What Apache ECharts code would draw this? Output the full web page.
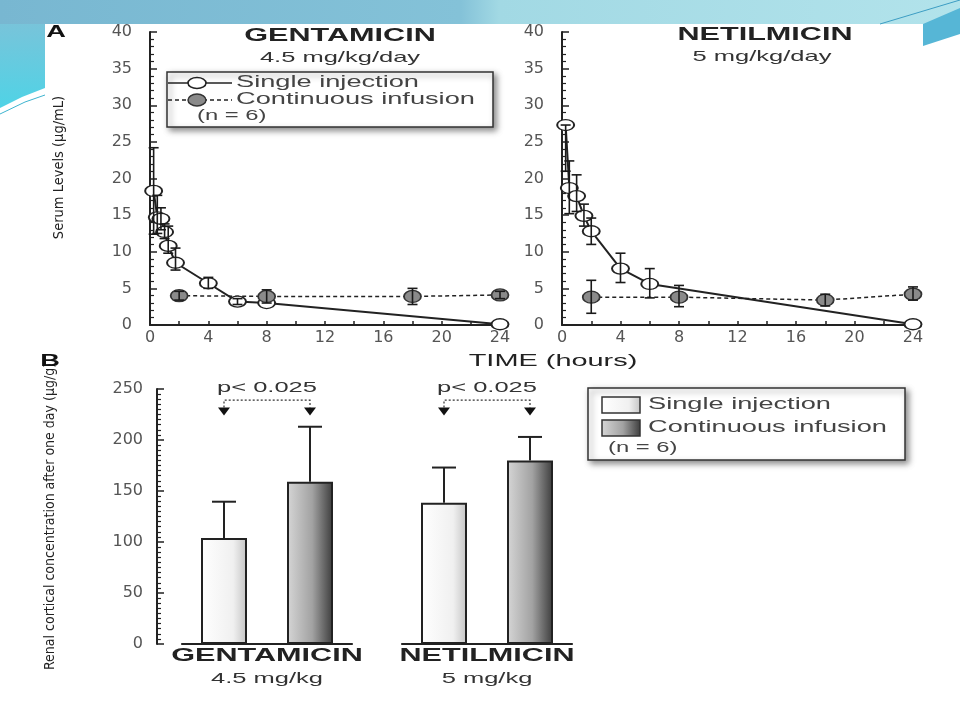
<!DOCTYPE html>
<html>
<head>
<meta charset="utf-8">
<title>Gentamicin / Netilmicin</title>
<script src="https://cdn.jsdelivr.net/npm/echarts@6/dist/echarts.min.js"></script>
<style>
html, body { margin: 0; padding: 0; background: #fff; }
#container { width: 960px; height: 720px; }
</style>
</head>
<body>
<div id="container"></div>
<script>
// Panel A - serum levels (ug/mL) against time (hours)
var gentSingleT  = [0.25, 0.5, 0.75, 1, 1.25, 1.75, 4, 6, 8, 24];
var gentSingle   = [18.3, 14.7, 14.5, 12.7, 10.8, 8.5, 5.7, 3.2, 3.0, 0.1];
var gentSingleLo = [12.4, 12.5, 13.0, 11.8, 9.8, 7.5, 5.0, 2.8, 3.0, 0.1];
var gentSingleHi = [24.2, 17.7, 16.0, 13.8, 13.5, 10.5, 6.5, 3.6, 3.0, 0.1];

var gentContT  = [2, 8, 18, 24];
var gentCont   = [4.0, 3.9, 3.9, 4.1];
var gentContLo = [3.4, 3.0, 2.8, 3.6];
var gentContHi = [4.6, 4.8, 5.0, 4.6];

var netSingleT  = [0.25, 0.5, 1, 1.5, 2, 4, 6, 24];
var netSingle   = [27.3, 18.7, 17.6, 14.9, 12.8, 7.7, 5.6, 0.1];
var netSingleLo = [21.0, 15.2, 15.5, 13.5, 11.0, 5.8, 3.7, 0.1];
var netSingleHi = [27.3, 22.4, 20.5, 16.5, 14.6, 9.8, 7.7, 0.1];

var netContT  = [2, 8, 18, 24];
var netCont   = [3.8, 3.8, 3.4, 4.2];
var netContLo = [1.6, 2.5, 2.6, 3.4];
var netContHi = [6.1, 5.4, 4.2, 5.2];

// Panel B - renal cortical concentration after one day (ug/g)
var drugs = ['GENTAMICIN', 'NETILMICIN'];
var doses = ['4.5 mg/kg', '5 mg/kg'];
var kidneySingle    = [104, 138.5];
var kidneySingleTop = [139.5, 173];
var kidneyCont      = [159, 180];
var kidneyContTop   = [213, 203];
var pLabels = ['p< 0.025', 'p< 0.025'];

var chart = echarts.init(document.getElementById('container'));

var SX = 1.7;   // the slide picture is stretched sideways
var FONT = "'Liberation Sans', Arial, sans-serif";
var NARROW = "'Liberation Sans Narrow', 'DejaVu Sans Condensed', sans-serif";
var INK = '#222';
var BAR_W = 46, BAR_GAP = 40;
var ELLIPSE = 'path://M0,10 A10,10 0 1,1 20,10 A10,10 0 1,1 0,10 Z';

var singleFill = new echarts.graphic.LinearGradient(0, 0, 1, 0, [
    { offset: 0, color: '#ffffff' }, { offset: 0.7, color: '#f0f0f0' }, { offset: 1, color: '#c4c4c4' }]);
var contFill = new echarts.graphic.LinearGradient(0, 0, 1, 0, [
    { offset: 0, color: '#d6d6d6' }, { offset: 0.55, color: '#a2a2a2' }, { offset: 1, color: '#3c3c3c' }]);

function pairs(t, v) {
    return t.map(function (x, i) { return [x, v[i]]; });
}
function triples(t, lo, hi) {
    return t.map(function (x, i) { return [x, lo[i], hi[i]]; });
}

function text(x, y, s, size, weight, align, color) {
    return {
        type: 'text', x: x, y: y, scaleX: SX, silent: true, z: 10,
        style: {
            text: s, fontSize: size, fontWeight: weight || 'normal', fontFamily: FONT,
            fill: color || INK, textAlign: align || 'center', textVerticalAlign: 'middle'
        }
    };
}

function errorBar(params, api) {
    var x = api.value(0);
    var lo = api.coord([x, api.value(1)]);
    var hi = api.coord([x, api.value(2)]);
    if (Math.abs(lo[1] - hi[1]) < 1) return null;
    var st = { stroke: '#1a1a1a', lineWidth: 1.6 };
    return {
        type: 'group', children: [
            { type: 'line', shape: { x1: lo[0], y1: lo[1], x2: hi[0], y2: hi[1] }, style: st },
            { type: 'line', shape: { x1: lo[0] - 5, y1: lo[1], x2: lo[0] + 5, y2: lo[1] }, style: st },
            { type: 'line', shape: { x1: hi[0] - 5, y1: hi[1], x2: hi[0] + 5, y2: hi[1] }, style: st }
        ]
    };
}

function barError(side) {
    return function (params, api) {
        var i = api.value(0);
        var off = side * (BAR_W + BAR_GAP) / 2;
        var b = api.coord([i, api.value(1)]);
        var t = api.coord([i, api.value(2)]);
        var x = b[0] + off;
        var st = { stroke: INK, lineWidth: 2 };
        return {
            type: 'group', children: [
                { type: 'line', shape: { x1: x, y1: b[1], x2: x, y2: t[1] }, style: st },
                { type: 'line', shape: { x1: x - 12, y1: t[1], x2: x + 12, y2: t[1] }, style: st }
            ]
        };
    };
}

// baseline, names and the p-value bracket under/over each drug group
function groupDecor(params, api) {
    var i = api.value(0);
    var k = params.dataIndex;
    var c = api.coord([i, 0]);
    var half = api.size([1, 0])[0] * 0.39;
    var off = (BAR_W + BAR_GAP) / 2;
    var yb = api.coord([i, 239])[1];
    var ytip = api.coord([i, 224])[1];
    var yt = api.coord([i, 251])[1];
    var dash = { stroke: '#333', fill: 'none', lineWidth: 1.2, lineDash: [2, 2] };
    function arrow(x) {
        return { type: 'polygon', shape: { points: [[x - 6, ytip - 8], [x + 6, ytip - 8], [x, ytip]] }, style: { fill: '#111' } };
    }
    var t1 = text(c[0], c[1] + 12, drugs[k], 18, 'bold');
    var t2 = text(c[0], c[1] + 35, doses[k], 15, 'normal', 'center', '#333');
    var t3 = text(c[0], yt, pLabels[k], 15, 'normal', 'center', '#333');
    return {
        type: 'group', children: [
            { type: 'line', shape: { x1: c[0] - half, y1: c[1], x2: c[0] + half, y2: c[1] }, style: { stroke: INK, lineWidth: 2 } },
            { type: 'polyline', shape: { points: [[c[0] - off, ytip - 8], [c[0] - off, yb], [c[0] + off, yb], [c[0] + off, ytip - 8]] }, style: dash },
            arrow(c[0] - off), arrow(c[0] + off),
            t1, t2, t3
        ]
    };
}

var tickLabel = { fontSize: 16, color: '#555', fontFamily: 'DejaVu Sans' };

function timeAxis(idx) {
    return {
        type: 'value', gridIndex: idx, min: 0, max: 24, interval: 4,
        axisLine: { onZero: false, lineStyle: { color: INK, width: 2 } },
        axisTick: { inside: true, length: 4, lineStyle: { color: INK, width: 1.5 } },
        minorTick: { show: true, splitNumber: 2, length: 4, lineStyle: { color: INK, width: 1.5 } },
        splitLine: { show: false },
        axisLabel: Object.assign({ margin: 5 }, tickLabel)
    };
}
function levelAxis(idx, name) {
    return {
        type: 'value', gridIndex: idx, min: 0, max: 40, interval: 5, offset: 10,
        axisLine: { show: true, lineStyle: { color: INK, width: 2 } },
        axisTick: { show: true, inside: true, length: 7, lineStyle: { color: INK, width: 1.5 } },
        minorTick: { show: true, splitNumber: 5, length: 4, lineStyle: { color: INK, width: 1.2 } },
        splitLine: { show: false },
        axisLabel: Object.assign({ margin: 8 }, tickLabel),
        name: name, nameLocation: 'middle', nameGap: 73, nameRotate: 90,
        nameTextStyle: { fontSize: 14.5, color: '#222', fontFamily: NARROW, padding: [0, 0, 0, 22] }
    };
}

function panelSeries(idx, sT, s, sLo, sHi, cT, c, cLo, cHi) {
    return [{
        name: 'Single injection', type: 'line', xAxisIndex: idx, yAxisIndex: idx,
        data: pairs(sT, s), symbol: ELLIPSE, symbolSize: [17, 11], showAllSymbol: true,
        itemStyle: { color: '#fff', borderColor: INK, borderWidth: 1.6 },
        lineStyle: { color: INK, width: 2 }, z: 3
    }, {
        name: 'Continuous infusion', type: 'line', xAxisIndex: idx, yAxisIndex: idx,
        data: pairs(cT, c), symbol: ELLIPSE, symbolSize: [17, 12],
        itemStyle: { color: '#8a8a8a', borderColor: '#333', borderWidth: 1.5 },
        lineStyle: { color: INK, width: 1.5, type: [4, 3] }, z: 3
    }, {
        type: 'custom', xAxisIndex: idx, yAxisIndex: idx, renderItem: errorBar,
        data: triples(sT, sLo, sHi), z: 5
    }, {
        type: 'custom', xAxisIndex: idx, yAxisIndex: idx, renderItem: errorBar,
        data: triples(cT, cLo, cHi), z: 5
    }];
}

var decor = [
    { type: 'rect', shape: { x: 0, y: 0, width: 960, height: 24 }, silent: true,
      style: { fill: new echarts.graphic.LinearGradient(0, 0, 1, 0, [
          { offset: 0, color: '#78b7d1' }, { offset: 0.48, color: '#84c2d8' },
          { offset: 0.52, color: '#a2d9e4' }, { offset: 1, color: '#b2e3eb' }]) } },
    { type: 'polygon', shape: { points: [[0, 24], [45, 24], [45, 88], [22, 97], [0, 108]] }, silent: true,
      style: { fill: new echarts.graphic.LinearGradient(0, 0, 0, 1, [
          { offset: 0, color: '#78c4da' }, { offset: 1, color: '#4fd3e6' }]) } },
    { type: 'polyline', shape: { points: [[0, 114], [25, 102], [45, 95]] }, silent: true,
      style: { stroke: '#3fb4cf', lineWidth: 1 } },
    { type: 'polygon', shape: { points: [[923, 24], [960, 8], [960, 34], [923, 46]] }, silent: true,
      style: { fill: '#56b6d6' } },
    { type: 'polyline', shape: { points: [[880, 24], [960, 0]] }, silent: true,
      style: { stroke: '#3d9dc3', lineWidth: 1 } },

    text(56, 33, 'A', 16, 'bold', 'center', '#111'),
    text(340, 36, 'GENTAMICIN', 18, 'bold'),
    text(340, 58, '4.5 mg/kg/day', 15, 'normal', 'center', '#333'),
    text(765, 35, 'NETILMICIN', 18, 'bold'),
    text(762, 57, '5 mg/kg/day', 15, 'normal', 'center', '#333'),
    text(553, 361, 'TIME (hours)', 17, 'normal'),
    text(50, 362, 'B', 16, 'bold', 'center', '#111'),

    // legend of panel A
    { type: 'rect', shape: { x: 167, y: 72, width: 326, height: 55 }, z: 8, silent: true,
      style: { fill: '#fff', stroke: '#333', lineWidth: 1.5, shadowBlur: 6, shadowOffsetX: 3, shadowOffsetY: 3, shadowColor: 'rgba(0,0,0,0.45)' } },
    { type: 'line', shape: { x1: 168, y1: 83, x2: 232, y2: 83 }, z: 9, style: { stroke: INK, lineWidth: 1.6 } },
    { type: 'ellipse', shape: { cx: 197, cy: 83, rx: 9, ry: 5.5 }, z: 9, style: { fill: '#fff', stroke: INK, lineWidth: 1.6 } },
    text(236, 83, 'Single injection', 16, 'normal', 'left', '#444'),
    { type: 'line', shape: { x1: 168, y1: 100, x2: 232, y2: 100 }, z: 9, style: { stroke: INK, lineWidth: 1.5, lineDash: [4, 3] } },
    { type: 'ellipse', shape: { cx: 197, cy: 100, rx: 9, ry: 6 }, z: 9, style: { fill: '#8a8a8a', stroke: '#333', lineWidth: 1.5 } },
    text(236, 100, 'Continuous infusion', 16, 'normal', 'left', '#444'),
    text(197, 116, '(n = 6)', 14, 'normal', 'left', '#444'),

    // legend of panel B
    { type: 'rect', shape: { x: 588, y: 388, width: 317, height: 72 }, z: 8, silent: true,
      style: { fill: '#fff', stroke: '#333', lineWidth: 1.5, shadowBlur: 6, shadowOffsetX: 3, shadowOffsetY: 3, shadowColor: 'rgba(0,0,0,0.45)' } },
    { type: 'rect', shape: { x: 602, y: 397, width: 38, height: 16 }, z: 9, style: { fill: singleFill, stroke: '#333', lineWidth: 1.5 } },
    text(648, 405, 'Single injection', 16, 'normal', 'left', '#444'),
    { type: 'rect', shape: { x: 602, y: 420, width: 38, height: 16 }, z: 9, style: { fill: contFill, stroke: '#333', lineWidth: 1.5 } },
    text(648, 428, 'Continuous infusion', 16, 'normal', 'left', '#444'),
    text(608, 448, '(n = 6)', 14, 'normal', 'left', '#444')
];

var option = {
    animation: false,
    backgroundColor: '#fff',
    grid: [
        { left: 150, top: 32, width: 350, height: 293 },
        { left: 562, top: 32, width: 351, height: 293 },
        { left: 157, top: 389, width: 440, height: 255 }
    ],
    xAxis: [
        timeAxis(0),
        timeAxis(1),
        {
            type: 'category', gridIndex: 2, data: drugs,
            axisLine: { show: false }, axisTick: { show: false }, axisLabel: { show: false }
        }
    ],
    yAxis: [
        levelAxis(0, 'Serum Levels (µg/mL)'),
        levelAxis(1, ''),
        {
            type: 'value', gridIndex: 2, min: 0, max: 250, interval: 50,
            axisLine: { show: true, lineStyle: { color: INK, width: 2 } },
            axisTick: { show: true, inside: true, length: 7, lineStyle: { color: INK, width: 1.5 } },
            minorTick: { show: true, splitNumber: 10, length: 4, lineStyle: { color: INK, width: 1.2 } },
            splitLine: { show: false },
            axisLabel: Object.assign({ margin: 14 }, tickLabel),
            name: 'Renal cortical concentration after one day (µg/g)',
            nameLocation: 'middle', nameGap: 100, nameRotate: 90,
            nameTextStyle: { fontSize: 14, color: '#222', fontFamily: NARROW }
        }
    ],
    graphic: decor,
    series: []
        .concat(panelSeries(0, gentSingleT, gentSingle, gentSingleLo, gentSingleHi, gentContT, gentCont, gentContLo, gentContHi))
        .concat(panelSeries(1, netSingleT, netSingle, netSingleLo, netSingleHi, netContT, netCont, netContLo, netContHi))
        .concat([{
            name: 'Single injection', type: 'bar', xAxisIndex: 2, yAxisIndex: 2,
            data: kidneySingle, barWidth: BAR_W, barGap: (BAR_GAP / BAR_W * 100) + '%',
            itemStyle: { color: singleFill, borderColor: INK, borderWidth: 2 }
        }, {
            name: 'Continuous infusion', type: 'bar', xAxisIndex: 2, yAxisIndex: 2,
            data: kidneyCont, barWidth: BAR_W,
            itemStyle: { color: contFill, borderColor: INK, borderWidth: 2 }
        }, {
            type: 'custom', xAxisIndex: 2, yAxisIndex: 2, renderItem: barError(-1), z: 4,
            data: kidneySingle.map(function (v, i) { return [i, v, kidneySingleTop[i]]; })
        }, {
            type: 'custom', xAxisIndex: 2, yAxisIndex: 2, renderItem: barError(1), z: 4,
            data: kidneyCont.map(function (v, i) { return [i, v, kidneyContTop[i]]; })
        }, {
            type: 'custom', xAxisIndex: 2, yAxisIndex: 2, renderItem: groupDecor, z: 5,
            data: drugs.map(function (d, i) { return [i, 0]; })
        }])
};

chart.setOption(option);

window.addEventListener('resize', function () {
    chart.resize();
});
</script>
</body>
</html>
